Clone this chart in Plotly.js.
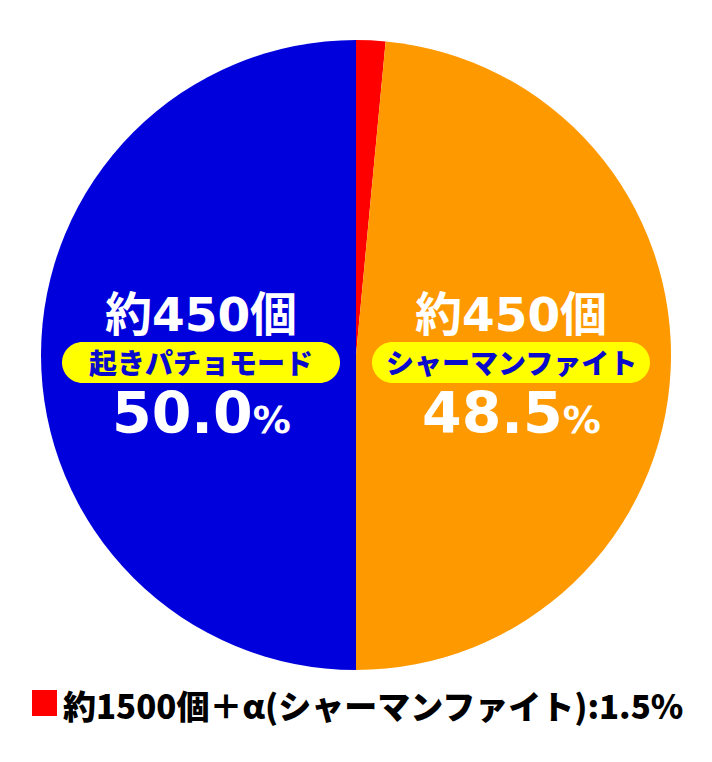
<!DOCTYPE html>
<html>
<head>
<meta charset="utf-8">
<script src="https://cdn.plot.ly/plotly-3.0.1.min.js"></script>
<style>
html,body{margin:0;padding:0;background:#fff;}
#chart{width:712px;height:762px;}
</style>
</head>
<body>
<div id="chart"></div>
<script>
// ---- data ----
const sliceLabels = ['約1500個＋α(シャーマンファイト)', 'シャーマンファイト', '起きパチョモード'];
const sliceValues = [1.5, 48.5, 50.0];
const sliceColors = ['#FF0000', '#FF9900', '#0000DC'];
const countLabels = ['約1500個＋α', '約450個', '約450個'];
const modeLabels = ['(シャーマンファイト)', 'シャーマンファイト', '起きパチョモード'];

// ---- layout helpers ----
const W = 712, H = 762;
const cx = 356, cy = 355, R = 315;

function pillPath(x1, y1, x2, y2) {
  const r = (y2 - y1) / 2, k = 0.5523 * r;
  return `M ${x1 + r} ${y1} L ${x2 - r} ${y1} ` +
    `C ${x2 - r + k} ${y1} ${x2} ${y1 + r - k} ${x2} ${y1 + r} ` +
    `C ${x2} ${y1 + r + k} ${x2 - r + k} ${y2} ${x2 - r} ${y2} ` +
    `L ${x1 + r} ${y2} ` +
    `C ${x1 + r - k} ${y2} ${x1} ${y1 + r + k} ${x1} ${y1 + r} ` +
    `C ${x1} ${y1 + r - k} ${x1 + r - k} ${y1} ${x1 + r} ${y1} Z`;
}

const bigFont = 'DejaVu Sans, Noto Sans CJK JP, sans-serif';
const jpFont = 'Noto Sans CJK JP, sans-serif';

// label block positions for orange (index 1) and blue (index 2)
const blocks = [
  {i: 2, x: 201, pill: [62, 342, 340, 383]},
  {i: 1, x: 511, pill: [372, 342, 650, 383]}
];

const shapes = [];
const annotations = [];
blocks.forEach(b => {
  shapes.push({type: 'path', xref: 'x', yref: 'y', path: pillPath(...b.pill),
    fillcolor: '#FFFF00', line: {width: 0}, layer: 'above'});
  annotations.push({xref: 'x', yref: 'y', x: b.x, y: 314, text: countLabels[b.i],
    showarrow: false, xanchor: 'center', yanchor: 'middle',
    font: {family: bigFont, size: 47, color: '#FFFFFF', weight: 'bold'}});
  annotations.push({xref: 'x', yref: 'y', x: (b.pill[0] + b.pill[2]) / 2, y: 362, text: modeLabels[b.i],
    showarrow: false, xanchor: 'center', yanchor: 'middle',
    font: {family: jpFont, size: 28, color: '#0A0ACC', weight: 900}});
  annotations.push({xref: 'x', yref: 'y', x: b.x, y: 413,
    text: sliceValues[b.i].toFixed(1) + '<span style="font-size:38px">%</span>',
    showarrow: false, xanchor: 'center', yanchor: 'middle',
    font: {family: bigFont, size: 57, color: '#FFFFFF', weight: 'bold'}});
});

// legend swatch + text for the small slice
shapes.push({type: 'rect', xref: 'x', yref: 'y', x0: 32, x1: 57, y0: 690, y1: 716,
  fillcolor: sliceColors[0], line: {width: 0}, layer: 'above'});
annotations.push({xref: 'x', yref: 'y', x: 61, y: 705,
  text: countLabels[0] + modeLabels[0] + ':' + sliceValues[0].toFixed(1) + '%',
  showarrow: false, xanchor: 'left', yanchor: 'middle',
  font: {family: jpFont, size: 33, color: '#000000', weight: 900}});

const trace = {
  type: 'pie',
  labels: sliceLabels,
  values: sliceValues,
  sort: false,
  direction: 'clockwise',
  rotation: 0,
  marker: {colors: sliceColors, line: {width: 0}},
  textinfo: 'none',
  hoverinfo: 'skip',
  showlegend: false,
  domain: {x: [(cx - R) / W, (cx + R) / W], y: [1 - (cy + R) / H, 1 - (cy - R) / H]}
};

const layout = {
  width: W, height: H,
  margin: {l: 0, r: 0, t: 0, b: 0, pad: 0},
  paper_bgcolor: '#FFFFFF', plot_bgcolor: 'rgba(0,0,0,0)',
  showlegend: false,
  xaxis: {range: [0, W], visible: false, fixedrange: true, domain: [0, 1]},
  yaxis: {range: [H, 0], visible: false, fixedrange: true, domain: [0, 1]},
  shapes: shapes,
  annotations: annotations
};

Plotly.newPlot('chart', [trace], layout, {displayModeBar: false, staticPlot: true});
</script>
</body>
</html>
